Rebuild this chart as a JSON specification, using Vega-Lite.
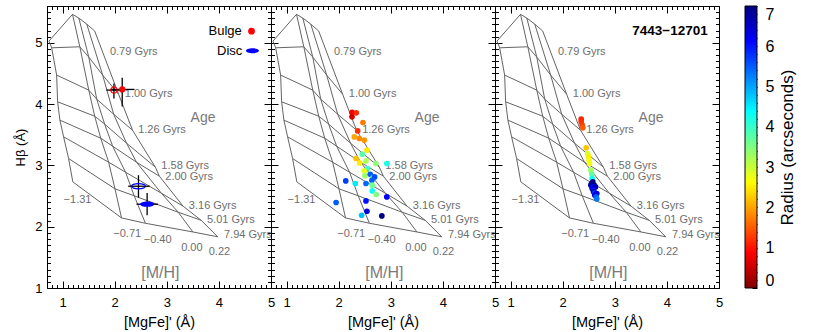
{
"$schema":"https://vega.github.io/schema/vega-lite/v6.json",
"padding":{"left":14,"top":-1,"right":5,"bottom":0},
"bounds":"flush",
"spacing":0,
"config":{"view":{"stroke":"black","strokeWidth":1},"font":"Liberation Sans",
"axis":{"domain":false,"grid":false,"tickColor":"black","labelColor":"black","titleColor":"black","labelFont":"Liberation Sans","titleFont":"Liberation Sans","labelFontSize":13,"titleFontSize":14.5,"titleFontWeight":"normal","labelOverlap":false,"labelFlush":false,"tickWidth":1}},
"datasets":{
"grid":[
{"age":0.79,"mh":-1.31,"x":0.738,"y":5.028},{"age":0.79,"mh":-0.71,"x":1.19,"y":5.464},{"age":0.79,"mh":-0.40,"x":1.311,"y":5.403},{"age":0.79,"mh":0.00,"x":1.463,"y":5.305},{"age":0.79,"mh":0.22,"x":1.616,"y":5.191},
{"age":1.00,"mh":-1.31,"x":0.79,"y":4.918},{"age":1.00,"mh":-0.71,"x":1.33,"y":4.935},{"age":1.00,"mh":-0.40,"x":1.502,"y":4.767},{"age":1.00,"mh":0.00,"x":1.769,"y":4.473},{"age":1.00,"mh":0.22,"x":2.074,"y":4.162},
{"age":1.26,"mh":-1.31,"x":0.885,"y":4.473},{"age":1.26,"mh":-0.71,"x":1.502,"y":4.228},{"age":1.26,"mh":-0.40,"x":1.654,"y":4.081},{"age":1.26,"mh":0.00,"x":1.979,"y":3.836},{"age":1.26,"mh":0.22,"x":2.341,"y":3.575},
{"age":1.58,"mh":-1.31,"x":0.904,"y":4.037},{"age":1.58,"mh":-0.71,"x":1.616,"y":3.803},{"age":1.58,"mh":-0.40,"x":1.807,"y":3.673},{"age":1.58,"mh":0.00,"x":2.227,"y":3.362},{"age":1.58,"mh":0.22,"x":2.78,"y":2.971},
{"age":2.00,"mh":-1.31,"x":0.948,"y":3.738},{"age":2.00,"mh":-0.71,"x":1.731,"y":3.444},{"age":2.00,"mh":-0.40,"x":1.96,"y":3.313},{"age":2.00,"mh":0.00,"x":2.418,"y":3.052},{"age":2.00,"mh":0.22,"x":2.857,"y":2.824},
{"age":3.16,"mh":-1.31,"x":1.019,"y":3.465},{"age":3.16,"mh":-0.71,"x":1.883,"y":3.052},{"age":3.16,"mh":-0.40,"x":2.208,"y":2.889},{"age":3.16,"mh":0.00,"x":2.895,"y":2.546},{"age":3.16,"mh":0.22,"x":3.314,"y":2.334},
{"age":5.01,"mh":-1.31,"x":1.114,"y":3.113},{"age":5.01,"mh":-0.71,"x":2.005,"y":2.618},{"age":5.01,"mh":-0.40,"x":2.374,"y":2.504},{"age":5.01,"mh":0.00,"x":3.219,"y":2.236},{"age":5.01,"mh":0.22,"x":3.658,"y":2.105},
{"age":7.94,"mh":-1.31,"x":1.196,"y":2.731},{"age":7.94,"mh":-0.71,"x":2.131,"y":2.143},{"age":7.94,"mh":-0.40,"x":2.589,"y":2.056},{"age":7.94,"mh":0.00,"x":3.5,"y":1.914},{"age":7.94,"mh":0.22,"x":3.977,"y":1.836}],
"ageLabels":[{"t":"0.79 Gyrs","x":1.908,"y":4.843},{"t":"1.00 Gyrs","x":2.194,"y":4.167},{"t":"1.26 Gyrs","x":2.45,"y":3.575},{"t":"1.58 Gyrs","x":2.895,"y":2.99},{"t":"2.00 Gyrs","x":2.971,"y":2.815},{"t":"3.16 Gyrs","x":3.423,"y":2.339},{"t":"5.01 Gyrs","x":3.773,"y":2.105},{"t":"7.94 Gyrs","x":4.097,"y":1.86}],
"zLabels":[{"t":"−1.31","x":1.019,"y":2.432},{"t":"−0.71","x":1.973,"y":1.888},{"t":"−0.40","x":2.557,"y":1.779},{"t":"0.00","x":3.276,"y":1.66},{"t":"0.22","x":3.805,"y":1.583}],
"names":[{"t":"Age","x":3.696,"y":3.771,"s":"age"},{"t":"[M/H]","x":2.876,"y":1.24,"s":"mh"}],
"obs":[{"comp":"Bulge","kind":"open","x":1.985,"y":4.228,"xlo":1.839,"xhi":2.126,"ylo":4.092,"yhi":4.337},
{"comp":"Bulge","kind":"filled","x":2.144,"y":4.239,"xlo":1.92,"xhi":2.38,"ylo":3.96,"yhi":4.43},
{"comp":"Disc","kind":"open","x":2.456,"y":2.66,"xlo":2.259,"xhi":2.671,"ylo":2.476,"yhi":2.84},
{"comp":"Disc","kind":"filled","x":2.622,"y":2.367,"xlo":2.418,"xhi":2.832,"ylo":2.187,"yhi":2.551}],
"key":[{"label":"Bulge","x":4.44,"y":5.19,"mx":4.626},{"label":"Disc","x":4.45,"y":4.869,"mx":4.645}],
"p2":[{"x":2.255,"y":3.864,"r":0.8},{"x":2.337,"y":3.857,"r":1.2},{"x":2.255,"y":3.792,"r":0.6},{"x":2.465,"y":3.7,"r":1.7},{"x":2.364,"y":3.563,"r":1.2},{"x":2.299,"y":3.465,"r":2.0},{"x":2.395,"y":3.439,"r":1.8},{"x":2.49,"y":3.411,"r":1.9},{"x":2.542,"y":3.248,"r":2.5},{"x":2.452,"y":3.183,"r":3.8},{"x":2.332,"y":3.113,"r":2.2},{"x":2.402,"y":3.041,"r":2.5},{"x":2.523,"y":3.073,"r":3.2},{"x":2.713,"y":3.031,"r":3.4},{"x":2.923,"y":3.031,"r":4.2},{"x":2.555,"y":2.949,"r":4.0},{"x":2.49,"y":2.91,"r":2.8},{"x":2.504,"y":2.829,"r":3.3},{"x":2.605,"y":2.856,"r":5.5},{"x":2.656,"y":2.796,"r":3.7},{"x":2.689,"y":2.812,"r":5.6},{"x":2.135,"y":2.747,"r":5.7},{"x":2.318,"y":2.704,"r":4.5},{"x":2.523,"y":2.704,"r":5.4},{"x":2.637,"y":2.758,"r":5.5},{"x":2.643,"y":2.677,"r":3.6},{"x":2.643,"y":2.584,"r":4.3},{"x":2.719,"y":2.525,"r":3.5},{"x":2.923,"y":2.486,"r":6.2},{"x":2.523,"y":2.42,"r":6.0},{"x":1.95,"y":2.394,"r":5.5},{"x":2.542,"y":2.252,"r":6.3},{"x":2.44,"y":2.187,"r":4.8},{"x":2.828,"y":2.176,"r":7.0}],
"p3":[{"x":2.355,"y":3.754,"r":1.1},{"x":2.355,"y":3.71,"r":1.2},{"x":2.374,"y":3.656,"r":1.3},{"x":2.387,"y":3.612,"r":1.5},{"x":2.45,"y":3.286,"r":2.2},{"x":2.477,"y":3.194,"r":2.9},{"x":2.496,"y":3.139,"r":2.5},{"x":2.507,"y":3.085,"r":2.6},{"x":2.515,"y":3.031,"r":2.7},{"x":2.54,"y":2.922,"r":3.3},{"x":2.559,"y":2.856,"r":3.7},{"x":2.564,"y":2.786,"r":4.3},{"x":2.553,"y":2.704,"r":6.5},{"x":2.54,"y":2.677,"r":6.8},{"x":2.578,"y":2.731,"r":6.9},{"x":2.565,"y":2.623,"r":6.9},{"x":2.603,"y":2.677,"r":7.0},{"x":2.578,"y":2.649,"r":6.2},{"x":2.629,"y":2.649,"r":6.6},{"x":2.591,"y":2.595,"r":6.0},{"x":2.591,"y":2.568,"r":6.7},{"x":2.61,"y":2.551,"r":5.8},{"x":2.654,"y":2.54,"r":6.3},{"x":2.616,"y":2.513,"r":6.4},{"x":2.641,"y":2.486,"r":5.5},{"x":2.654,"y":2.453,"r":5.3}],
"id3":[{"t":"7443−12701","x":4.784,"y":5.196}],
"cbar":[{"a":0,"b":1,"lo":0,"hi":7}]
},
"hconcat":[
{"width":224,"height":282,"resolve":{"axis":{"x":"independent","y":"independent"}},
"layer":[
{"data":{"name":"grid"},"mark":{"type":"line","color":"#646464","strokeWidth":1},
"encoding":{"x":{"field":"x","type":"quantitative","scale":{"domain":[0.7,5],"nice":false,"zero":false},"axis":{"orient":"bottom","values":[0.7,0.8,0.9,1,1.1,1.2,1.3,1.4,1.5,1.6,1.7,1.8,1.9,2,2.1,2.2,2.3,2.4,2.5,2.6,2.7,2.8,2.9,3,3.1,3.2,3.3,3.4,3.5,3.6,3.7,3.8,3.9,4,4.1,4.2,4.3,4.4,4.5,4.6,4.7,4.8,4.9,5],"labelExpr":"datum.value % 1 === 0 ? format(datum.value, 'd') : ''","tickSize":{"condition":{"test":"datum.value % 1 === 0","value":-7},"value":-3.5},"labelPadding":15,"title":"[MgFe]' (Å)","titlePadding":3}},
"y":{"field":"y","type":"quantitative","scale":{"domain":[1,5.6],"nice":false,"zero":false},"axis":{"orient":"left","values":[1,1.1,1.2,1.3,1.4,1.5,1.6,1.7,1.8,1.9,2,2.1,2.2,2.3,2.4,2.5,2.6,2.7,2.8,2.9,3,3.1,3.2,3.3,3.4,3.5,3.6,3.7,3.8,3.9,4,4.1,4.2,4.3,4.4,4.5,4.6,4.7,4.8,4.9,5,5.1,5.2,5.3,5.4,5.5,5.6],"labelExpr":"datum.value % 1 === 0 ? format(datum.value, 'd') : ''","tickSize":{"condition":{"test":"datum.value % 1 === 0","value":-7},"value":-3.5},"labelPadding":12,"title":"Hβ (Å)","titlePadding":7,"titleFontSize":13}},
"detail":{"field":"age","type":"nominal"},"order":{"field":"mh","type":"quantitative"}}},
{"data":{"name":"grid"},"mark":{"type":"line","color":"#646464","strokeWidth":1},
"encoding":{"x":{"field":"x","type":"quantitative","scale":{"domain":[0.7,5],"nice":false,"zero":false},"axis":{"orient":"top","values":[0.7,0.8,0.9,1,1.1,1.2,1.3,1.4,1.5,1.6,1.7,1.8,1.9,2,2.1,2.2,2.3,2.4,2.5,2.6,2.7,2.8,2.9,3,3.1,3.2,3.3,3.4,3.5,3.6,3.7,3.8,3.9,4,4.1,4.2,4.3,4.4,4.5,4.6,4.7,4.8,4.9,5],"labels":false,"tickSize":{"condition":{"test":"datum.value % 1 === 0","value":-7},"value":-3.5},"title":null}},
"y":{"field":"y","type":"quantitative","scale":{"domain":[1,5.6],"nice":false,"zero":false},"axis":{"orient":"right","values":[1,1.1,1.2,1.3,1.4,1.5,1.6,1.7,1.8,1.9,2,2.1,2.2,2.3,2.4,2.5,2.6,2.7,2.8,2.9,3,3.1,3.2,3.3,3.4,3.5,3.6,3.7,3.8,3.9,4,4.1,4.2,4.3,4.4,4.5,4.6,4.7,4.8,4.9,5,5.1,5.2,5.3,5.4,5.5,5.6],"labels":false,"tickSize":{"condition":{"test":"datum.value % 1 === 0","value":-7},"value":-3.5},"title":null}},
"detail":{"field":"mh","type":"nominal"},"order":{"field":"age","type":"quantitative"}}},
{"data":{"name":"ageLabels"},"mark":{"type":"text","align":"left","baseline":"middle","fontSize":11,"color":"#6e6e6e"},"encoding":{"x":{"field":"x","type":"quantitative","scale":{"domain":[0.7,5]},"axis":null},"y":{"field":"y","type":"quantitative","scale":{"domain":[1,5.6]},"axis":null},"text":{"field":"t"}}},
{"data":{"name":"zLabels"},"mark":{"type":"text","align":"left","baseline":"middle","fontSize":11,"color":"#6e6e6e"},"encoding":{"x":{"field":"x","type":"quantitative","scale":{"domain":[0.7,5]},"axis":null},"y":{"field":"y","type":"quantitative","scale":{"domain":[1,5.6]},"axis":null},"text":{"field":"t"}}},
{"data":{"name":"names"},"transform":[{"filter":"datum.s === 'age'"}],"mark":{"type":"text","align":"center","baseline":"middle","fontSize":14,"color":"#7a7a7a"},"encoding":{"x":{"field":"x","type":"quantitative","scale":{"domain":[0.7,5]},"axis":null},"y":{"field":"y","type":"quantitative","scale":{"domain":[1,5.6]},"axis":null},"text":{"field":"t"}}},
{"data":{"name":"names"},"transform":[{"filter":"datum.s === 'mh'"}],"mark":{"type":"text","align":"center","baseline":"middle","fontSize":16,"color":"#7a7a7a"},"encoding":{"x":{"field":"x","type":"quantitative","scale":{"domain":[0.7,5]},"axis":null},"y":{"field":"y","type":"quantitative","scale":{"domain":[1,5.6]},"axis":null},"text":{"field":"t"}}},
{"data":{"name":"obs"},"mark":{"type":"rule","color":"black","strokeWidth":1.3},"encoding":{"x":{"field":"xlo","type":"quantitative","scale":{"domain":[0.7,5]},"axis":null},"x2":{"field":"xhi"},"y":{"field":"y","type":"quantitative","scale":{"domain":[1,5.6]},"axis":null}}},
{"data":{"name":"obs"},"mark":{"type":"rule","color":"black","strokeWidth":1.3},"encoding":{"x":{"field":"x","type":"quantitative","scale":{"domain":[0.7,5]},"axis":null},"y":{"field":"ylo","type":"quantitative","scale":{"domain":[1,5.6]},"axis":null},"y2":{"field":"yhi"}}},
{"data":{"name":"obs"},"transform":[{"filter":"datum.comp === 'Bulge' && datum.kind === 'filled'"}],"mark":{"type":"point","shape":"circle","filled":true,"color":"#ff0000","size":40,"opacity":1},"encoding":{"x":{"field":"x","type":"quantitative","scale":{"domain":[0.7,5]},"axis":null},"y":{"field":"y","type":"quantitative","scale":{"domain":[1,5.6]},"axis":null}}},
{"data":{"name":"obs"},"transform":[{"filter":"datum.comp === 'Bulge' && datum.kind === 'open'"}],"mark":{"type":"point","shape":"circle","filled":false,"color":"#ff0000","size":40,"strokeWidth":1.2,"opacity":1},"encoding":{"x":{"field":"x","type":"quantitative","scale":{"domain":[0.7,5]},"axis":null},"y":{"field":"y","type":"quantitative","scale":{"domain":[1,5.6]},"axis":null}}},
{"data":{"name":"obs"},"transform":[{"filter":"datum.comp === 'Disc' && datum.kind === 'filled'"}],"mark":{"type":"point","shape":"M-1,0A1,0.38,0,1,1,1,0A1,0.38,0,1,1,-1,0Z","filled":true,"color":"#0000ff","size":196,"opacity":1},"encoding":{"x":{"field":"x","type":"quantitative","scale":{"domain":[0.7,5]},"axis":null},"y":{"field":"y","type":"quantitative","scale":{"domain":[1,5.6]},"axis":null}}},
{"data":{"name":"obs"},"transform":[{"filter":"datum.comp === 'Disc' && datum.kind === 'open'"}],"mark":{"type":"point","shape":"M-1,0A1,0.38,0,1,1,1,0A1,0.38,0,1,1,-1,0Z","filled":false,"color":"#0000ff","size":196,"strokeWidth":1.2,"opacity":1},"encoding":{"x":{"field":"x","type":"quantitative","scale":{"domain":[0.7,5]},"axis":null},"y":{"field":"y","type":"quantitative","scale":{"domain":[1,5.6]},"axis":null}}},
{"data":{"name":"key"},"mark":{"type":"text","align":"right","baseline":"middle","fontSize":13,"color":"black"},"encoding":{"x":{"field":"x","type":"quantitative","scale":{"domain":[0.7,5]},"axis":null},"y":{"field":"y","type":"quantitative","scale":{"domain":[1,5.6]},"axis":null},"text":{"field":"label"}}},
{"data":{"name":"key"},"transform":[{"filter":"datum.label === 'Bulge'"}],"mark":{"type":"point","shape":"circle","filled":true,"color":"#ff0000","size":45,"opacity":1},"encoding":{"x":{"field":"mx","type":"quantitative","scale":{"domain":[0.7,5]},"axis":null},"y":{"field":"y","type":"quantitative","scale":{"domain":[1,5.6]},"axis":null}}},
{"data":{"name":"key"},"transform":[{"filter":"datum.label === 'Disc'"}],"mark":{"type":"point","shape":"M-1,0A1,0.38,0,1,1,1,0A1,0.38,0,1,1,-1,0Z","filled":true,"color":"#0000ff","size":170,"opacity":1},"encoding":{"x":{"field":"mx","type":"quantitative","scale":{"domain":[0.7,5]},"axis":null},"y":{"field":"y","type":"quantitative","scale":{"domain":[1,5.6]},"axis":null}}}
]},
{"width":224,"height":282,"resolve":{"axis":{"x":"independent","y":"independent"}},
"layer":[
{"data":{"name":"grid"},"mark":{"type":"line","color":"#646464","strokeWidth":1},
"encoding":{"x":{"field":"x","type":"quantitative","scale":{"domain":[0.7,5],"nice":false,"zero":false},"axis":{"orient":"bottom","values":[0.7,0.8,0.9,1,1.1,1.2,1.3,1.4,1.5,1.6,1.7,1.8,1.9,2,2.1,2.2,2.3,2.4,2.5,2.6,2.7,2.8,2.9,3,3.1,3.2,3.3,3.4,3.5,3.6,3.7,3.8,3.9,4,4.1,4.2,4.3,4.4,4.5,4.6,4.7,4.8,4.9,5],"labelExpr":"datum.value % 1 === 0 ? format(datum.value, 'd') : ''","tickSize":{"condition":{"test":"datum.value % 1 === 0","value":-7},"value":-3.5},"labelPadding":15,"title":"[MgFe]' (Å)","titlePadding":3}},
"y":{"field":"y","type":"quantitative","scale":{"domain":[1,5.6],"nice":false,"zero":false},"axis":{"orient":"left","values":[1,1.1,1.2,1.3,1.4,1.5,1.6,1.7,1.8,1.9,2,2.1,2.2,2.3,2.4,2.5,2.6,2.7,2.8,2.9,3,3.1,3.2,3.3,3.4,3.5,3.6,3.7,3.8,3.9,4,4.1,4.2,4.3,4.4,4.5,4.6,4.7,4.8,4.9,5,5.1,5.2,5.3,5.4,5.5,5.6],"labels":false,"tickSize":{"condition":{"test":"datum.value % 1 === 0","value":-7},"value":-3.5},"title":null}},
"detail":{"field":"age","type":"nominal"},"order":{"field":"mh","type":"quantitative"}}},
{"data":{"name":"grid"},"mark":{"type":"line","color":"#646464","strokeWidth":1},
"encoding":{"x":{"field":"x","type":"quantitative","scale":{"domain":[0.7,5],"nice":false,"zero":false},"axis":{"orient":"top","values":[0.7,0.8,0.9,1,1.1,1.2,1.3,1.4,1.5,1.6,1.7,1.8,1.9,2,2.1,2.2,2.3,2.4,2.5,2.6,2.7,2.8,2.9,3,3.1,3.2,3.3,3.4,3.5,3.6,3.7,3.8,3.9,4,4.1,4.2,4.3,4.4,4.5,4.6,4.7,4.8,4.9,5],"labels":false,"tickSize":{"condition":{"test":"datum.value % 1 === 0","value":-7},"value":-3.5},"title":null}},
"y":{"field":"y","type":"quantitative","scale":{"domain":[1,5.6],"nice":false,"zero":false},"axis":{"orient":"right","values":[1,1.1,1.2,1.3,1.4,1.5,1.6,1.7,1.8,1.9,2,2.1,2.2,2.3,2.4,2.5,2.6,2.7,2.8,2.9,3,3.1,3.2,3.3,3.4,3.5,3.6,3.7,3.8,3.9,4,4.1,4.2,4.3,4.4,4.5,4.6,4.7,4.8,4.9,5,5.1,5.2,5.3,5.4,5.5,5.6],"labels":false,"tickSize":{"condition":{"test":"datum.value % 1 === 0","value":-7},"value":-3.5},"title":null}},
"detail":{"field":"mh","type":"nominal"},"order":{"field":"age","type":"quantitative"}}},
{"data":{"name":"ageLabels"},"mark":{"type":"text","align":"left","baseline":"middle","fontSize":11,"color":"#6e6e6e"},"encoding":{"x":{"field":"x","type":"quantitative","scale":{"domain":[0.7,5]},"axis":null},"y":{"field":"y","type":"quantitative","scale":{"domain":[1,5.6]},"axis":null},"text":{"field":"t"}}},
{"data":{"name":"zLabels"},"mark":{"type":"text","align":"left","baseline":"middle","fontSize":11,"color":"#6e6e6e"},"encoding":{"x":{"field":"x","type":"quantitative","scale":{"domain":[0.7,5]},"axis":null},"y":{"field":"y","type":"quantitative","scale":{"domain":[1,5.6]},"axis":null},"text":{"field":"t"}}},
{"data":{"name":"names"},"transform":[{"filter":"datum.s === 'age'"}],"mark":{"type":"text","align":"center","baseline":"middle","fontSize":14,"color":"#7a7a7a"},"encoding":{"x":{"field":"x","type":"quantitative","scale":{"domain":[0.7,5]},"axis":null},"y":{"field":"y","type":"quantitative","scale":{"domain":[1,5.6]},"axis":null},"text":{"field":"t"}}},
{"data":{"name":"names"},"transform":[{"filter":"datum.s === 'mh'"}],"mark":{"type":"text","align":"center","baseline":"middle","fontSize":16,"color":"#7a7a7a"},"encoding":{"x":{"field":"x","type":"quantitative","scale":{"domain":[0.7,5]},"axis":null},"y":{"field":"y","type":"quantitative","scale":{"domain":[1,5.6]},"axis":null},"text":{"field":"t"}}},
{"data":{"name":"p2"},"mark":{"type":"circle","size":32,"opacity":1},"encoding":{"x":{"field":"x","type":"quantitative","scale":{"domain":[0.7,5]},"axis":null},"y":{"field":"y","type":"quantitative","scale":{"domain":[1,5.6]},"axis":null},"color":{"field":"r","type":"quantitative","scale":{"domain":[0,0.875,2.625,4.375,6.125,7],"range":["#800000","#ff0000","#ffff00","#00ffff","#0000ff","#000080"],"interpolate":"rgb"},"legend":null}}}
]},
{"width":224,"height":282,"resolve":{"axis":{"x":"independent","y":"independent"}},
"layer":[
{"data":{"name":"grid"},"mark":{"type":"line","color":"#646464","strokeWidth":1},
"encoding":{"x":{"field":"x","type":"quantitative","scale":{"domain":[0.7,5],"nice":false,"zero":false},"axis":{"orient":"bottom","values":[0.7,0.8,0.9,1,1.1,1.2,1.3,1.4,1.5,1.6,1.7,1.8,1.9,2,2.1,2.2,2.3,2.4,2.5,2.6,2.7,2.8,2.9,3,3.1,3.2,3.3,3.4,3.5,3.6,3.7,3.8,3.9,4,4.1,4.2,4.3,4.4,4.5,4.6,4.7,4.8,4.9,5],"labelExpr":"datum.value % 1 === 0 ? format(datum.value, 'd') : ''","tickSize":{"condition":{"test":"datum.value % 1 === 0","value":-7},"value":-3.5},"labelPadding":15,"title":"[MgFe]' (Å)","titlePadding":3}},
"y":{"field":"y","type":"quantitative","scale":{"domain":[1,5.6],"nice":false,"zero":false},"axis":{"orient":"left","values":[1,1.1,1.2,1.3,1.4,1.5,1.6,1.7,1.8,1.9,2,2.1,2.2,2.3,2.4,2.5,2.6,2.7,2.8,2.9,3,3.1,3.2,3.3,3.4,3.5,3.6,3.7,3.8,3.9,4,4.1,4.2,4.3,4.4,4.5,4.6,4.7,4.8,4.9,5,5.1,5.2,5.3,5.4,5.5,5.6],"labels":false,"tickSize":{"condition":{"test":"datum.value % 1 === 0","value":-7},"value":-3.5},"title":null}},
"detail":{"field":"age","type":"nominal"},"order":{"field":"mh","type":"quantitative"}}},
{"data":{"name":"grid"},"mark":{"type":"line","color":"#646464","strokeWidth":1},
"encoding":{"x":{"field":"x","type":"quantitative","scale":{"domain":[0.7,5],"nice":false,"zero":false},"axis":{"orient":"top","values":[0.7,0.8,0.9,1,1.1,1.2,1.3,1.4,1.5,1.6,1.7,1.8,1.9,2,2.1,2.2,2.3,2.4,2.5,2.6,2.7,2.8,2.9,3,3.1,3.2,3.3,3.4,3.5,3.6,3.7,3.8,3.9,4,4.1,4.2,4.3,4.4,4.5,4.6,4.7,4.8,4.9,5],"labels":false,"tickSize":{"condition":{"test":"datum.value % 1 === 0","value":-7},"value":-3.5},"title":null}},
"y":{"field":"y","type":"quantitative","scale":{"domain":[1,5.6],"nice":false,"zero":false},"axis":{"orient":"right","values":[1,1.1,1.2,1.3,1.4,1.5,1.6,1.7,1.8,1.9,2,2.1,2.2,2.3,2.4,2.5,2.6,2.7,2.8,2.9,3,3.1,3.2,3.3,3.4,3.5,3.6,3.7,3.8,3.9,4,4.1,4.2,4.3,4.4,4.5,4.6,4.7,4.8,4.9,5,5.1,5.2,5.3,5.4,5.5,5.6],"labels":false,"tickSize":{"condition":{"test":"datum.value % 1 === 0","value":-7},"value":-3.5},"title":null}},
"detail":{"field":"mh","type":"nominal"},"order":{"field":"age","type":"quantitative"}}},
{"data":{"name":"ageLabels"},"mark":{"type":"text","align":"left","baseline":"middle","fontSize":11,"color":"#6e6e6e"},"encoding":{"x":{"field":"x","type":"quantitative","scale":{"domain":[0.7,5]},"axis":null},"y":{"field":"y","type":"quantitative","scale":{"domain":[1,5.6]},"axis":null},"text":{"field":"t"}}},
{"data":{"name":"zLabels"},"mark":{"type":"text","align":"left","baseline":"middle","fontSize":11,"color":"#6e6e6e"},"encoding":{"x":{"field":"x","type":"quantitative","scale":{"domain":[0.7,5]},"axis":null},"y":{"field":"y","type":"quantitative","scale":{"domain":[1,5.6]},"axis":null},"text":{"field":"t"}}},
{"data":{"name":"names"},"transform":[{"filter":"datum.s === 'age'"}],"mark":{"type":"text","align":"center","baseline":"middle","fontSize":14,"color":"#7a7a7a"},"encoding":{"x":{"field":"x","type":"quantitative","scale":{"domain":[0.7,5]},"axis":null},"y":{"field":"y","type":"quantitative","scale":{"domain":[1,5.6]},"axis":null},"text":{"field":"t"}}},
{"data":{"name":"names"},"transform":[{"filter":"datum.s === 'mh'"}],"mark":{"type":"text","align":"center","baseline":"middle","fontSize":16,"color":"#7a7a7a"},"encoding":{"x":{"field":"x","type":"quantitative","scale":{"domain":[0.7,5]},"axis":null},"y":{"field":"y","type":"quantitative","scale":{"domain":[1,5.6]},"axis":null},"text":{"field":"t"}}},
{"data":{"name":"p3"},"mark":{"type":"circle","size":32,"opacity":1},"encoding":{"x":{"field":"x","type":"quantitative","scale":{"domain":[0.7,5]},"axis":null},"y":{"field":"y","type":"quantitative","scale":{"domain":[1,5.6]},"axis":null},"color":{"field":"r","type":"quantitative","scale":{"domain":[0,0.875,2.625,4.375,6.125,7],"range":["#800000","#ff0000","#ffff00","#00ffff","#0000ff","#000080"],"interpolate":"rgb"},"legend":null}}},
{"data":{"name":"id3"},"mark":{"type":"text","align":"right","baseline":"middle","fontSize":13.5,"fontWeight":"bold","color":"black"},"encoding":{"x":{"field":"x","type":"quantitative","scale":{"domain":[0.7,5]},"axis":null},"y":{"field":"y","type":"quantitative","scale":{"domain":[1,5.6]},"axis":null},"text":{"field":"t"}}}
]},
{"width":38,"height":282,"view":{"stroke":null},"data":{"name":"cbar"},
"mark":{"type":"rect","stroke":"black","strokeWidth":1,"color":{"gradient":"linear","x1":0,"y1":1,"x2":0,"y2":0,"stops":[{"offset":0,"color":"#800000"},{"offset":0.125,"color":"#ff0000"},{"offset":0.375,"color":"#ffff00"},{"offset":0.625,"color":"#00ffff"},{"offset":0.875,"color":"#0000ff"},{"offset":1,"color":"#000080"}]}},
"encoding":{"x":{"field":"a","type":"quantitative","scale":{"domain":[-2.1667,1],"nice":false,"zero":false},"axis":null},"x2":{"field":"b"},
"y":{"field":"lo","type":"quantitative","scale":{"domain":[0,7],"nice":false,"zero":false},"axis":{"orient":"right","values":[0,0.2,0.4,0.6,0.8,1,1.2,1.4,1.6,1.8,2,2.2,2.4,2.6,2.8,3,3.2,3.4,3.6,3.8,4,4.2,4.4,4.6,4.8,5,5.2,5.4,5.6,5.8,6,6.2,6.4,6.6,6.8,7],"labelExpr":"datum.value % 1 === 0 ? format(datum.value, 'd') : ''","tickSize":{"condition":{"test":"datum.value % 1 === 0","value":-5},"value":-2.5},"labelPadding":13,"labelFontSize":16,"labelFlush":true,"title":"Radius (arcseconds)","titleFontSize":17,"titleAngle":270,"titleBaseline":"top","titlePadding":6}},
"y2":{"field":"hi"}}}
]
}
